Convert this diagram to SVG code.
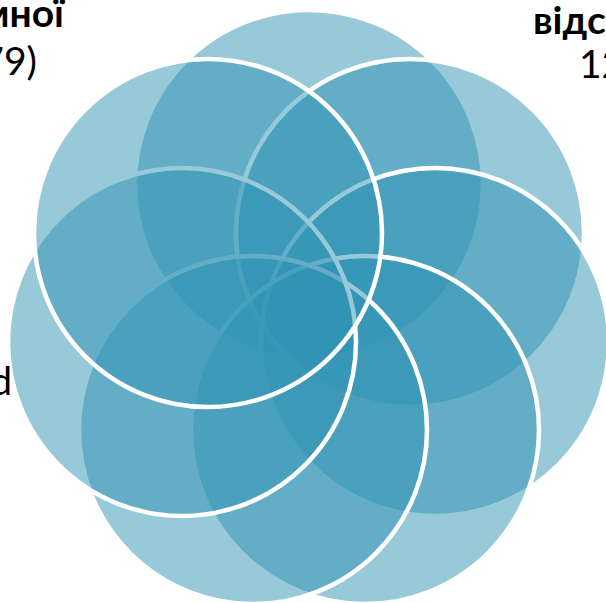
<svg xmlns="http://www.w3.org/2000/svg" width="606" height="603" viewBox="0 0 606 603">
  <style>
    .c { fill: rgb(47,148,180); fill-opacity: 0.5; stroke: #ffffff; stroke-width: 4.5; }
    .t { font-family: Lato, "Open Sans", sans-serif; font-size: 39px; fill: #000000; }
    .b { font-weight: bold; }
  </style>
  <rect width="606" height="603" fill="#ffffff"/>
  <g id="node1"><circle class="c" cx="309" cy="184" r="174"/></g>
  <g id="node2"><circle class="c" cx="410" cy="233" r="174"/></g>
  <g id="node3"><circle class="c" cx="435" cy="342" r="174"/></g>
  <g id="node4"><circle class="c" cx="365" cy="430" r="174"/></g>
  <g id="node5"><circle class="c" cx="253" cy="430" r="174"/></g>
  <g id="node6"><circle class="c" cx="182" cy="342" r="174"/></g>
  <g id="node7"><circle class="c" cx="208" cy="233" r="174"/></g>
  <g id="connectors"></g>
  <g id="labels">
    <text class="t b" x="64" y="27" text-anchor="end">мної</text>
    <text class="t" x="37" y="75" text-anchor="end">79)</text>
    <text class="t b" x="533" y="34">відс</text>
    <text class="t" x="579" y="78">12</text>
    <text class="t" x="12" y="395" text-anchor="end">d</text>
  </g>
</svg>
